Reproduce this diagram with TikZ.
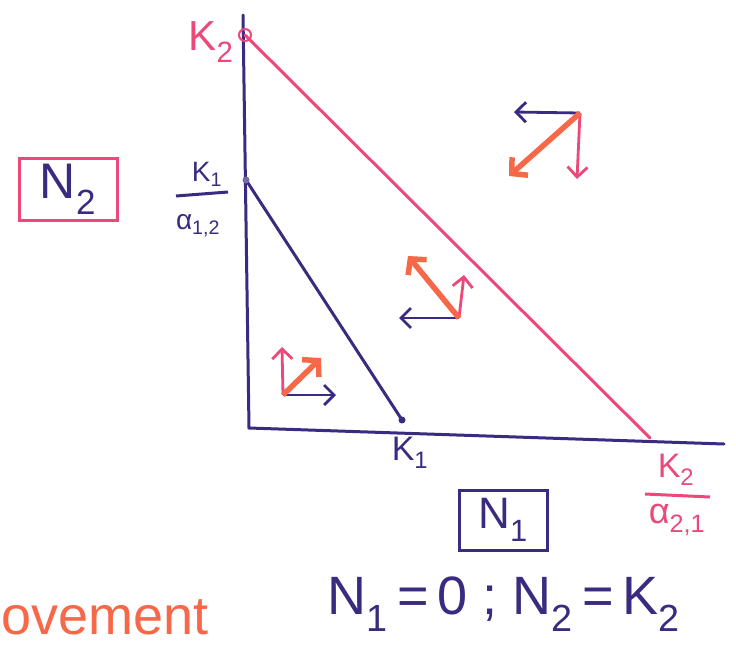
\documentclass[tikz,border=0pt]{standalone}
\usepackage{fontspec}
\setmainfont{Liberation Sans}
\usetikzlibrary{arrows.meta}
\definecolor{ink}{RGB}{58,42,128}
\definecolor{pinkink}{RGB}{236,72,122}
\definecolor{orangeink}{RGB}{246,104,72}
\newcommand{\fs}[1]{\fontsize{#1}{#1}\selectfont}
\begin{document}
\begin{tikzpicture}[x=1pt,y=-1pt,
  axisline/.style={draw=ink, line width=3pt, line cap=round},
  pinkline/.style={draw=pinkink, line width=3pt, line cap=round},
  bluearrow/.style={draw=ink, line width=2.8pt, -{Straight Barb[length=10pt,width=20pt,line width=2.8pt]}},
  pinkarrow/.style={draw=pinkink, line width=2.8pt, -{Straight Barb[length=10pt,width=20pt,line width=2.8pt]}},
  orangearrow/.style={draw=orangeink, line width=5.5pt, -{Straight Barb[length=11pt,width=24pt,line width=5.5pt]}},
  bluetext/.style={text=ink, inner sep=0pt},
  pinktext/.style={text=pinkink, inner sep=0pt},
  boxb/.style={draw=ink, line width=3pt, minimum width=88pt, minimum height=60pt, text=ink, inner sep=0pt},
  boxp/.style={draw=pinkink, line width=3pt, minimum width=98pt, minimum height=62pt, text=ink, inner sep=0pt}
]
\useasboundingbox (0,0) rectangle (736,645);

% axes
\coordinate (ytop) at (243,15);
\coordinate (orig) at (249,428);
\coordinate (xend) at (724,444);
\draw[axisline] (ytop) -- (orig) -- (xend);

% points
\coordinate (pK2) at (245,35);
\coordinate (pKa) at (246,180);
\coordinate (pK1) at (402,420);
\coordinate (pK2x) at (650,438);

\draw[pinkline] (pK2) -- (pK2x);
\draw[axisline] (pKa) -- (pK1);
\draw[pinkink, line width=2pt] (pK2) circle (6);
\fill[ink!70] (pKa) circle (3.5);
\fill[ink] (pK1) circle (3.5);

% labels on axes
\node[pinktext, font=\fs{42}] (lK2) at (211,42) {K\textsubscript{2}};
\node[bluetext, font=\fs{28}] (lKa) at (207,174) {K\textsubscript{1}};
\coordinate (fa1) at (176,196);
\coordinate (fa2) at (228,192);
\draw[ink, line width=3pt] (fa1) -- (fa2);
\node[bluetext, font=\fs{28}] (lalpha12) at (198,226) {α\textsubscript{1,2}};
\node[bluetext, font=\fs{34}] (lK1) at (410,453) {K\textsubscript{1}};
\node[pinktext, font=\fs{34}] (lK2b) at (676,470) {K\textsubscript{2}};
\coordinate (fb1) at (645,494);
\coordinate (fb2) at (710,497);
\draw[pinkink, line width=3pt] (fb1) -- (fb2);
\node[pinktext, font=\fs{36}] (lalpha21) at (677,520) {α\textsubscript{2,1}};

% boxes
\node[boxp, font=\fs{50}] (N2) at (68,189) {N\textsubscript{2}};
\node[boxb, font=\fs{44}] (N1) at (503,520) {N\textsubscript{1}};

% equation
\node[bluetext, font=\fs{54}, anchor=base] (eq) at (504,614) {N\textsubscript{1}\,=\,0 ; N\textsubscript{2}\,=\,K\textsubscript{2}};

% movement
\node[text=orangeink, font=\fs{54}, anchor=base west, inner sep=0pt] (mov) at (1,634) {ovement};

% arrows region 1
\coordinate (a1) at (283,395);
\coordinate (a1b) at (336,395);
\coordinate (a1p) at (282,347);
\coordinate (a1o) at (321,358);
\draw[bluearrow] (a1) -- (a1b);
\draw[pinkarrow] (a1) -- (a1p);
\draw[orangearrow] (a1) -- (a1o);

% arrows region 2
\coordinate (a2) at (459,318);
\coordinate (a2b) at (399,318);
\coordinate (a2p) at (464,275);
\coordinate (a2o) at (408,256);
\draw[bluearrow] (a2) -- (a2b);
\draw[pinkarrow] (a2) -- (a2p);
\draw[orangearrow] (a2) -- (a2o);

% arrows region 3
\coordinate (a3) at (580,113);
\coordinate (a3b) at (514,112);
\coordinate (a3p) at (577,179);
\coordinate (a3o) at (509,176);
\draw[bluearrow] (a3) -- (a3b);
\draw[pinkarrow] (a3) -- (a3p);
\draw[orangearrow] (a3) -- (a3o);
\end{tikzpicture}
\end{document}
